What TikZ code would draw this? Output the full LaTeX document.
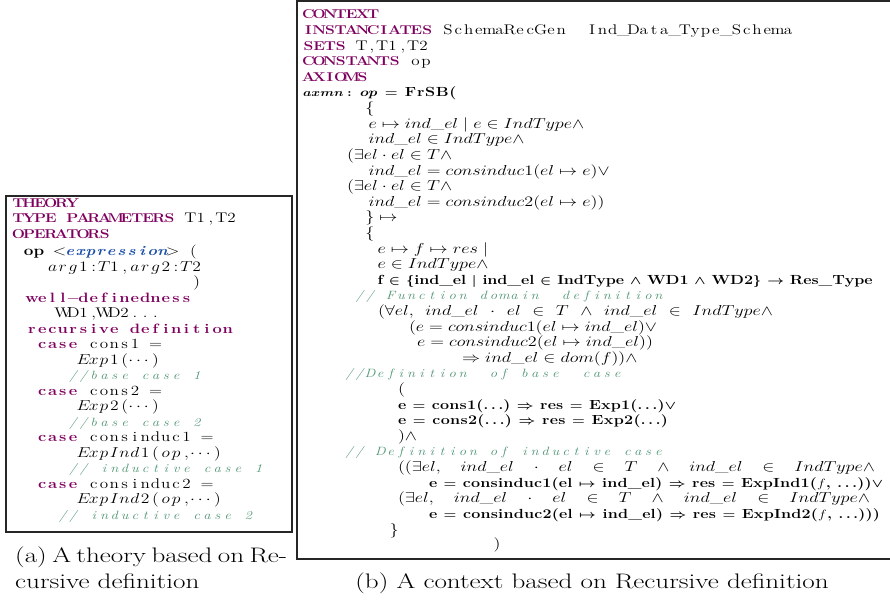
\documentclass[tikz,border=0pt]{standalone}
\usepackage{fontspec}
\usepackage{graphicx}
\usepackage{amsmath,amssymb,bm}

\definecolor{kwc}{RGB}{127,0,95}
\definecolor{cmc}{RGB}{80,150,115}
\definecolor{exc}{RGB}{30,80,170}

% listing text is set narrow and widened by \hx; widths given to the
% helpers below are final widths
\newcommand\hx[1]{\scalebox{1.22}[1]{#1}}
\newcommand\hxm[1]{\scalebox{1.26}[1]{#1}}
\newcommand\hxc[1]{\scalebox{1.29}[1]{#1}}
\ExplSyntaxOn
\dim_new:N \l_rk_cell_dim
\dim_set:Nn \l_rk_cell_dim { 8.443pt }
\box_new:N \l_rk_box
\dim_new:N \l_rk_gap_dim
\int_new:N \l_rk_int
\bool_new:N \l_rk_bool
\NewDocumentCommand \setcell { m } { \dim_set:Nn \l_rk_cell_dim { \fp_to_dim:n { (#1) / 1.22 } } }
\NewDocumentCommand \cols { m }
 { \tl_map_inline:nn { #1 } { \hbox_to_wd:nn { \l_rk_cell_dim } { \hss ##1 \hss } } }
\NewDocumentCommand \mcols { m }
 { \tl_map_inline:nn { #1 } { \hbox_to_wd:nn { \l_rk_cell_dim } { \hss $ ##1 $ \hss } } }
\NewDocumentCommand \fitt { m m }
 {
  \hbox_set:Nn \l_rk_box { #2 }
  \int_set:Nn \l_rk_int { \int_max:nn { 1 } { \tl_count:n { #2 } - 1 } }
  \dim_set:Nn \l_rk_gap_dim
   { ( \fp_to_dim:n { (#1) / 1.22 } - \box_wd:N \l_rk_box ) / \l_rk_int }
  \bool_set_false:N \l_rk_bool
  \tl_map_inline:nn { #2 }
   { \bool_if:NT \l_rk_bool { \kern \l_rk_gap_dim } \bool_set_true:N \l_rk_bool ##1 }
 }
% a formula whose pieces are spread over a given final width
\NewDocumentCommand \spreadm { m m }
 {
  \hbox_to_wd:nn { \fp_to_dim:n { (#1) / 1.26 } }
   { \clist_map_inline:nn { #2 } { $ ##1 $ \hfil } \unskip }
 }
\ExplSyntaxOff

% fonts of the listing
\newcommand\kwf{\fontsize{12.8}{14}\selectfont\bfseries\color{kwc}}
\newcommand\klf{\fontsize{13.5}{14}\selectfont\bfseries\color{kwc}}
\newcommand\rmf{\fontsize{14}{15}\selectfont\normalfont}
\newcommand\cmf{\fontsize{12}{14}\selectfont\itshape\color{cmc}}
\newcommand\exf{\fontsize{13.5}{14}\selectfont\bfseries\itshape\color{exc}}
\newcommand\KW[1]{{\kwf\setcell{10.8}\cols{#1}}}
\newcommand\KL[1]{{\klf\cols{#1}}}
\newcommand\RM[1]{{\rmf\cols{#1}}}
\newcommand\CM[1]{{\cmf\cols{#1}}}
\newcommand\Dots{\hbox to 16.9pt{\hss$\cdots$\hss}}

% single-token bold symbols for spaced text lines
\newcommand\Eq{\ensuremath{\bm{=}}}
\newcommand\In{\ensuremath{\bm{\in}}}
\newcommand\An{\ensuremath{\bm{\land}}}
\newcommand\Or{\ensuremath{\bm{\lor}}}
\newcommand\Mt{\ensuremath{\bm{\mapsto}}}
\newcommand\Imp{\ensuremath{\bm{\Rightarrow}}}
\newcommand\To{\ensuremath{\bm{\rightarrow}}}
\newcommand\Lb{\ensuremath{\bm{\{}}}
\newcommand\Rb{\ensuremath{\bm{\}}}}
\newcommand\Ld{\ensuremath{\bm{\ldots}}}
\newcommand\Mid{\ensuremath{\bm{\mid}}}
\newcommand\Mi{\ensuremath{-}}
\newcommand\opb{\ensuremath{\bm{op}}}
\newcommand\fv{\ensuremath{f}}

\tikzset{
  ln/.style={anchor=base west, inner sep=0pt, outer sep=0pt, font=\fontsize{14.5}{15}\selectfont},
  lln/.style={ln, font=\fontsize{14}{15}\selectfont},
  bln/.style={ln, font=\fontsize{13.2}{15}\selectfont\bfseries},
  frame/.style={draw=black!85, line width=1.1pt},
  capt/.style={anchor=base west, inner sep=0pt, font=\fontsize{21}{25}\selectfont},
}

\begin{document}
\begin{tikzpicture}[x=1pt,y=-1pt]
\fill[white] (0,0) rectangle (890,599);
\useasboundingbox (0,0) rectangle (890,599);

% ---------- theory box ----------
\draw[frame] (6,196) rectangle (292,532);
\node[lln] (l0) at (13,207) {\hx{\KW{THEORY}}};
\node[lln] (l1) at (13,222.5) {\hx{\KW{TYPE~PARAMETERS}\RM{~T1,T2}}};
\node[lln] (l2) at (13,238) {\hx{\KW{OPERATORS}}};
\node[lln] (l3) at (23.5,255) {\hx{{\rmf\bfseries\cols{op}}\RM{~}\mcols{<}{\exf\cols{expression}}\mcols{>}\RM{~(}}};
\node[lln] (l4) at (47.4,271) {\hx{\mcols{arg1:T1,arg2:T2}}};
\node[lln] (l5) at (191.6,286.5) {\hx{\mcols{)}}};
\node[lln] (l6) at (26.8,302) {\hx{\KL{well\Mi definedness}}};
\node[lln] (l7) at (57.7,317.5) {\hx{\RM{WD1,WD2...}}};
\node[lln] (l8) at (26.8,333) {\hx{\KL{recursive~definition}}};
\node[lln] (l9) at (37.1,348.5) {\hx{\KL{case}\RM{~cons1~=}}};
\node[lln] (l10) at (78.3,364) {\hx{\mcols{Exp1(}\Dots\mcols{)}}};
\node[lln] (l11) at (68,379.5) {\hx{\CM{//base~case~1}}};
\node[lln] (l12) at (37.1,395) {\hx{\KL{case}\RM{~cons2~=}}};
\node[lln] (l13) at (78.3,410.5) {\hx{\mcols{Exp2(}\Dots\mcols{)}}};
\node[lln] (l14) at (68,426) {\hx{\CM{//base~case~2}}};
\node[lln] (l15) at (37.1,441.5) {\hx{\KL{case}\RM{~consinduc1~=}}};
\node[lln] (l16) at (78.3,457) {\hx{\mcols{ExpInd1(op,}\Dots\mcols{)}}};
\node[lln] (l17) at (68,472.5) {\hx{\CM{//~inductive~case~1}}};
\node[lln] (l18) at (37.1,488) {\hx{\KL{case}\RM{~consinduc2~=}}};
\node[lln] (l19) at (78.3,503.5) {\hx{\mcols{ExpInd2(op,}\Dots\mcols{)}}};
\node[lln] (l20) at (57.7,519) {\hx{\CM{//~inductive~case~2}}};

% ---------- context box ----------
\draw[frame] (893,1) -- (297,1) -- (297,559) -- (893,559);
\node[lln] (r0) at (303,19.0) {\hx{\KW{CONTEXT}}};
\node[lln] (r1) at (303,34.6) {\hx{\KW{INSTANCIATES}\RM{~SchemaRecGen~~Ind\_Data\_Type\_Schema}}};
\node[lln] (r2) at (303,50.2) {\hx{\KW{SETS}\RM{~T,T1,T2}}};
\node[lln] (r3) at (303,65.8) {\hx{\KW{CONSTANTS}\RM{~op}}};
\node[lln] (r4) at (303,81.4) {\hx{\KW{AXIOMS}}};
\node[ln, font=\fontsize{11}{14}\selectfont] (r5a) at (303,97.0) {\hx{$\bm{axmn:}$}};
\node[bln] (r5b) at (360,97.0) {\hx{\fitt{95pt}{\opb~\Eq~FrSB(}}};
\node[ln] (r6) at (365.3,112.6) {\hxm{$\{$}};
\node[ln] (r7) at (368.5,128.2) {\hxm{$e\mapsto ind\_el\mid e\in IndType\land$}};
\node[ln] (r8) at (368.5,143.8) {\hxm{$ind\_el\in IndType\land$}};
\node[ln] (r9) at (347,159.4) {\hxm{$(\exists el\cdot el\in T\land$}};
\node[ln] (r10) at (368.5,175.0) {\hxm{$ind\_el=consinduc1(el\mapsto e)\lor$}};
\node[ln] (r11) at (347,190.6) {\hxm{$(\exists el\cdot el\in T\land$}};
\node[ln] (r12) at (368.5,206.2) {\hxm{$ind\_el=consinduc2(el\mapsto e))$}};
\node[ln] (r13) at (365.3,221.8) {\hxm{$\}\mapsto$}};
\node[ln] (r14) at (365.3,237.4) {\hxm{$\{$}};
\node[ln] (r15) at (377.5,253.0) {\hxm{$e\mapsto f\mapsto res\mid$}};
\node[ln] (r16) at (377.5,268.6) {\hxm{$e\in IndType\land$}};
\node[bln] (r17) at (377.5,284.2) {\hx{\fitt{495pt}{f~\In~\Lb ind\_el~\Mid~ind\_el~\In~IndType~\An~WD1~\An~WD2\Rb~\To~Res\_Type}}};
\node[lln] (r18) at (354.5,299.8) {\hx{\CM{//~Function~domain~~definition}}};
\node[ln] (r19) at (378,315.4) {\hxm{\spreadm{395}{(\forall el{,},ind\_el,\cdot,el,\in,T,\land,ind\_el,\in,IndType\land}}};
\node[ln] (r20) at (409,331.0) {\hxm{$(e=consinduc1(el\mapsto ind\_el)\lor$}};
\node[ln] (r21) at (417,346.6) {\hxm{$e=consinduc2(el\mapsto ind\_el))$}};
\node[ln] (r22) at (462,362.2) {\hxm{$\Rightarrow ind\_el\in dom(f))\land$}};
\node[lln] (r23) at (344.2,377.8) {\hx{\CM{//Definition~~of~base~~case}}};
\node[ln] (r24) at (398,393.4) {\hxm{$($}};
\node[bln] (r25) at (398,409.0) {\hx{\fitt{278pt}{e~\Eq~cons1(\Ld)~\Imp~res~\Eq~Exp1(\Ld)\Or}}};
\node[bln] (r26) at (398,424.6) {\hx{\fitt{270pt}{e~\Eq~cons2(\Ld)~\Imp~res~\Eq~Exp2(\Ld)}}};
\node[ln] (r27) at (398,440.2) {\hxm{$)\land$}};
\node[lln] (r28) at (344.2,455.8) {\hx{\CM{//~Definition~of~inductive~case}}};
\node[ln] (r29) at (398,471.4) {\hxm{\spreadm{477}{((\exists el{,},ind\_el,\cdot,el,\in,T,\land,ind\_el,\in,IndType\land}}};
\node[bln] (r30) at (429,487.0) {\hx{\fitt{454pt}{e~\Eq~consinduc1(el~\Mt~ind\_el)~\Imp~res~\Eq~ExpInd1(\fv,~\Ld))\Or}}};
\node[ln] (r31) at (398,502.6) {\hxm{\spreadm{472}{(\exists el{,},ind\_el,\cdot,el,\in,T,\land,ind\_el,\in,IndType\land}}};
\node[bln] (r32) at (429,518.2) {\hx{\fitt{451pt}{e~\Eq~consinduc2(el~\Mt~ind\_el)~\Imp~res~\Eq~ExpInd2(\fv,~\Ld)))}}};
\node[ln] (r33) at (389.5,534) {\hxm{$\}$}};
\node[ln] (r34) at (493.5,548) {\hxm{$)$}};

% ---------- captions ----------
\node[capt] (ca1) at (15,562) {\hxc{\makebox[203.9pt][s]{(a) A theory based on Re-}}};
\node[capt] (ca2) at (15,588) {\hxc{cursive definition}};
\node[capt, anchor=base] (cb) at (592,588) {\hxc{(b) A context based on Recursive definition}};
\end{tikzpicture}
\end{document}
